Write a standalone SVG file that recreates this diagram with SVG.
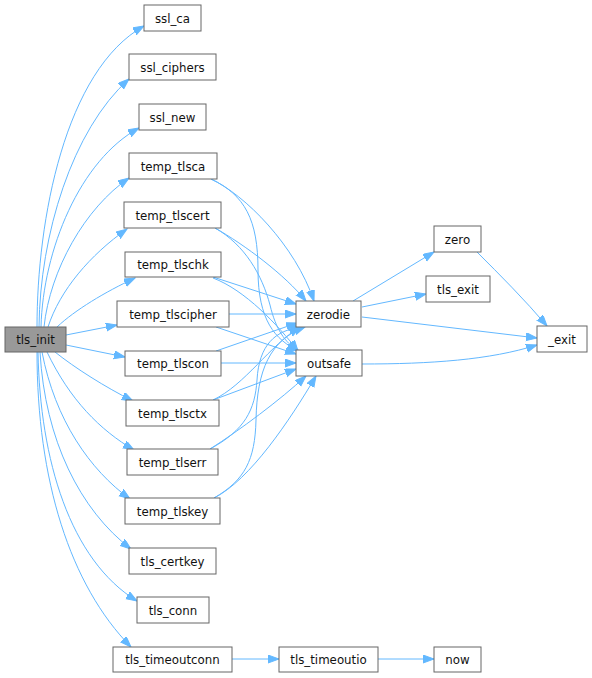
<svg xmlns="http://www.w3.org/2000/svg" width="592" height="678" viewBox="0 0 592 678">
<style>
.n rect{fill:#fff;stroke:#666;stroke-width:1}
.n text{font-family:"DejaVu Sans",sans-serif;font-size:11.8px;fill:#111;text-anchor:middle}
#tls_init rect{fill:#999}
.e path{fill:none;stroke:#63b8ff;stroke-width:1;marker-end:url(#ah)}
</style>
<defs>
<marker id="ah" markerUnits="userSpaceOnUse" markerWidth="12" markerHeight="9" refX="11" refY="4" orient="auto">
<path d="M0,0 L11,4 L0,8 z" fill="#63b8ff" stroke="#63b8ff"/>
</marker>
</defs>
<g id="edges" class="e">
<path d="M37,327 C37,220 65,70 144,26"/>
<path d="M39,327 C40,235 72,130 129,79"/>
<path d="M41,327 C43,250 80,160 139,128"/>
<path d="M44,327 C50,270 85,208 129,178"/>
<path d="M48,327 C60,290 90,255 127,229"/>
<path d="M57,327 C75,310 105,292 135,278"/>
<path d="M66,335 L117,325"/>
<path d="M66,345 L125,357"/>
<path d="M55,352 C75,368 105,387 133,401"/>
<path d="M47,352 C70,400 100,430 134,450"/>
<path d="M42,352 C55,420 90,470 130,499"/>
<path d="M40,352 C45,440 80,510 131,549"/>
<path d="M38,352 C40,460 70,560 137,601"/>
<path d="M37,352 C37,480 70,585 131,647"/>
<path d="M211,179 C245,195 295,245 314,301"/>
<path d="M211,179 C245,195 258,220 258,270 C258,320 275,340 299,351"/>
<path d="M215,228 C245,245 285,275 306,301"/>
<path d="M215,228 C245,245 262,275 270,305 C276,330 285,342 298,351"/>
<path d="M213,277 L296,304"/>
<path d="M213,278 C245,290 278,325 298,351"/>
<path d="M229,314 L296,314"/>
<path d="M216,327 L296,354"/>
<path d="M216,351 L297,323"/>
<path d="M221,363 L296,363"/>
<path d="M213,400 C245,385 270,345 300,327"/>
<path d="M213,400 L296,369"/>
<path d="M210,449 C245,430 255,410 257,380 C259,345 275,330 302,327"/>
<path d="M210,449 C240,430 280,400 306,376"/>
<path d="M214,498 C245,480 255,460 256,420 C257,370 270,340 305,327"/>
<path d="M214,498 C250,480 290,420 316,376"/>
<path d="M353,301 L434,252"/>
<path d="M362,307 L426,294"/>
<path d="M362,317 L537,338"/>
<path d="M477,252 C500,275 525,300 547,326"/>
<path d="M362,364 C430,364 490,360 537,345"/>
<path d="M232,659 L279,659"/>
<path d="M378,659 L434,659"/>
</g>
<g id="tls_init" class="n"><rect x="5" y="327" width="61" height="25"/><text x="35.5" y="344">tls_init</text></g>
<g id="ssl_ca" class="n"><rect x="144" y="5" width="57" height="26"/><text x="172.5" y="22.5">ssl_ca</text></g>
<g id="ssl_ciphers" class="n"><rect x="129" y="54" width="87" height="26"/><text x="172.5" y="71.5">ssl_ciphers</text></g>
<g id="ssl_new" class="n"><rect x="139" y="104" width="67" height="26"/><text x="172.5" y="121.5">ssl_new</text></g>
<g id="temp_tlsca" class="n"><rect x="129" y="153" width="88" height="26"/><text x="173" y="170.5">temp_tlsca</text></g>
<g id="temp_tlscert" class="n"><rect x="124" y="202" width="97" height="26"/><text x="172.5" y="219.5">temp_tlscert</text></g>
<g id="temp_tlschk" class="n"><rect x="125" y="252" width="96" height="25"/><text x="173" y="269">temp_tlschk</text></g>
<g id="temp_tlscipher" class="n"><rect x="117" y="301" width="112" height="26"/><text x="173" y="318.5">temp_tlscipher</text></g>
<g id="temp_tlscon" class="n"><rect x="125" y="351" width="96" height="25"/><text x="173" y="368">temp_tlscon</text></g>
<g id="temp_tlsctx" class="n"><rect x="126" y="400" width="93" height="26"/><text x="172.5" y="417.5">temp_tlsctx</text></g>
<g id="temp_tlserr" class="n"><rect x="127" y="449" width="91" height="26"/><text x="172.5" y="466.5">temp_tlserr</text></g>
<g id="temp_tlskey" class="n"><rect x="125" y="498" width="95" height="26"/><text x="172.5" y="515.5">temp_tlskey</text></g>
<g id="tls_certkey" class="n"><rect x="129" y="548" width="87" height="26"/><text x="172.5" y="565.5">tls_certkey</text></g>
<g id="tls_conn" class="n"><rect x="137" y="597" width="72" height="26"/><text x="173" y="614.5">tls_conn</text></g>
<g id="tls_timeoutconn" class="n"><rect x="113" y="647" width="119" height="25"/><text x="172.5" y="664">tls_timeoutconn</text></g>
<g id="zerodie" class="n"><rect x="296" y="301" width="65" height="26"/><text x="328.5" y="318.5">zerodie</text></g>
<g id="outsafe" class="n"><rect x="296" y="350" width="66" height="26"/><text x="329" y="367.5">outsafe</text></g>
<g id="zero" class="n"><rect x="434" y="226" width="47" height="26"/><text x="457.5" y="243.5">zero</text></g>
<g id="tls_exit" class="n"><rect x="426" y="276" width="64" height="26"/><text x="458" y="293.5">tls_exit</text></g>
<g id="_exit" class="n"><rect x="537" y="326" width="50" height="26"/><text x="562" y="343.5">_exit</text></g>
<g id="tls_timeoutio" class="n"><rect x="279" y="647" width="99" height="25"/><text x="328.5" y="664">tls_timeoutio</text></g>
<g id="now" class="n"><rect x="434" y="647" width="47" height="25"/><text x="457.5" y="664">now</text></g>
</svg>
